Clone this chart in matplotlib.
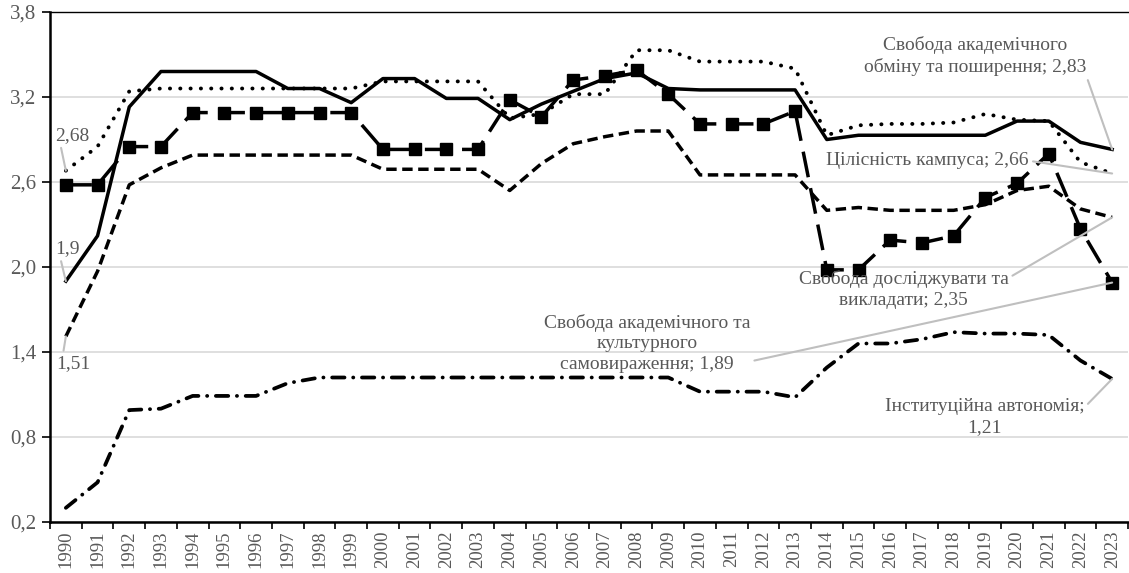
import matplotlib.pyplot as plt
import numpy as np

plt.rcParams['font.family'] = ['Liberation Serif', 'DejaVu Serif']

years = list(range(1990, 2024))

# Свобода академічного обміну та поширення
obmin = [1.9, 2.22, 3.13, 3.38, 3.38, 3.38, 3.38, 3.26, 3.26, 3.16,
         3.33, 3.33, 3.19, 3.19, 3.04, 3.15, 3.24, 3.33, 3.37, 3.26,
         3.25, 3.25, 3.25, 3.25, 2.9, 2.93, 2.93, 2.93, 2.93, 2.93,
         3.03, 3.03, 2.88, 2.83]
# Цілісність кампуса
kampus = [2.68, 2.85, 3.24, 3.26, 3.26, 3.26, 3.26, 3.26, 3.26, 3.26,
          3.31, 3.31, 3.31, 3.31, 3.05, 3.08, 3.22, 3.22, 3.53, 3.53,
          3.45, 3.45, 3.45, 3.4, 2.93, 3.0, 3.01, 3.01, 3.02, 3.08,
          3.04, 3.03, 2.74, 2.66]
# Свобода досліджувати та викладати
doslid = [1.51, 1.97, 2.58, 2.7, 2.79, 2.79, 2.79, 2.79, 2.79, 2.79,
          2.69, 2.69, 2.69, 2.69, 2.54, 2.73, 2.87, 2.92, 2.96, 2.96,
          2.65, 2.65, 2.65, 2.65, 2.4, 2.42, 2.4, 2.4, 2.4, 2.44,
          2.54, 2.57, 2.41, 2.35]
# Свобода академічного та культурного самовираження
samovyr = [2.58, 2.58, 2.85, 2.85, 3.09, 3.09, 3.09, 3.09, 3.09, 3.09,
           2.83, 2.83, 2.83, 2.83, 3.18, 3.06, 3.32, 3.35, 3.39, 3.22,
           3.01, 3.01, 3.01, 3.1, 1.98, 1.98, 2.19, 2.17, 2.22, 2.49,
           2.59, 2.8, 2.27, 1.89]
# Інституційна автономія
avtonom = [0.3, 0.48, 0.99, 1.0, 1.09, 1.09, 1.09, 1.18, 1.22, 1.22,
           1.22, 1.22, 1.22, 1.22, 1.22, 1.22, 1.22, 1.22, 1.22, 1.22,
           1.12, 1.12, 1.12, 1.08, 1.29, 1.46, 1.46, 1.49, 1.54, 1.53,
           1.53, 1.52, 1.34, 1.21]

yticks = [0.2, 0.8, 1.4, 2.0, 2.6, 3.2, 3.8]

grey = '#595959'
leader = '#bfbfbf'

fig = plt.figure(figsize=(11.29, 5.73), dpi=100)
ax = fig.add_axes([50/1129, 1-522/573, 1078/1129, 510/573])

X = np.arange(len(years))
ax.plot(X, obmin, color='black', linewidth=2.5, linestyle='-', zorder=3)
ax.plot(X, kampus, color='black', linewidth=2.8, linestyle=(0, (0.05, 2.6)),
        dash_capstyle='round', zorder=3)
ax.plot(X, doslid, color='black', linewidth=2.5, linestyle=(0, (3.0, 1.6)), zorder=3)
ax.plot(X, samovyr, color='black', linewidth=2.5, linestyle=(0, (7.5, 3.2)),
        marker='s', markersize=8, zorder=3)
ax.plot(X, avtonom, color='black', linewidth=2.7, linestyle=(0, (3.3, 2.3, 0.05, 2.3)),
        dash_capstyle='round', zorder=3)

ax.set_xlim(-0.5, len(years) - 0.5)
ax.set_ylim(0.2, 3.8)
ax.set_yticks(yticks)
ax.set_yticklabels([f'{v:.1f}'.replace('.', ',') for v in yticks])
ax.set_xticks(X)
ax.set_xticklabels([str(y) for y in years], rotation=90)
ax.set_xticks(np.arange(-0.5, len(years), 1), minor=True)
ax.tick_params(axis='x', which='major', length=0, pad=6, labelsize=13.5, labelcolor=grey)
ax.tick_params(axis='x', which='minor', length=5, width=1.2, direction='out')
ax.tick_params(axis='y', length=6, width=1.2, direction='out', labelsize=15,
               labelcolor=grey, pad=4)
ax.grid(True, axis='y', color='#d9d9d9', linewidth=1.2, zorder=0)
for s in ['left', 'bottom']:
    ax.spines[s].set_linewidth(1.8)
ax.spines['top'].set_linewidth(1.0)
ax.spines['right'].set_visible(False)

def label(txt, xy, xytext, relpos):
    ax.annotate(txt, xy=xy, xytext=xytext, ha='center', va='center',
                fontsize=14, color=grey, linespacing=1.3,
                arrowprops=dict(arrowstyle='-', color=leader, lw=1.5,
                                shrinkA=1, shrinkB=0, relpos=relpos))

last = len(years) - 1
label('Свобода академічного\nобміну та поширення; 2,83', (last, obmin[-1]), (28.68, 3.49), (1, 0))
label('Цілісність кампуса; 2,66', (last, kampus[-1]), (27.18, 2.75), (1, 0.5))
label('Свобода досліджувати та\nвикладати; 2,35', (last, doslid[-1]), (26.42, 1.84), (1, 0.8))
label('Свобода академічного та\nкультурного\nсамовираження; 1,89', (last, samovyr[-1]), (18.33, 1.46), (1, 0.2))
label('Інституційна автономія;\n1,21', (last, avtonom[-1]), (28.97, 0.94), (1, 0.75))
label('2,68', (0, kampus[0]), (0.2, 2.93), (0.15, 0))
label('1,9', (0, obmin[0]), (0.05, 2.13), (0.2, 0))
label('1,51', (0, doslid[0]), (0.23, 1.32), (0.2, 1))

fig.savefig('out.png', dpi=100)
